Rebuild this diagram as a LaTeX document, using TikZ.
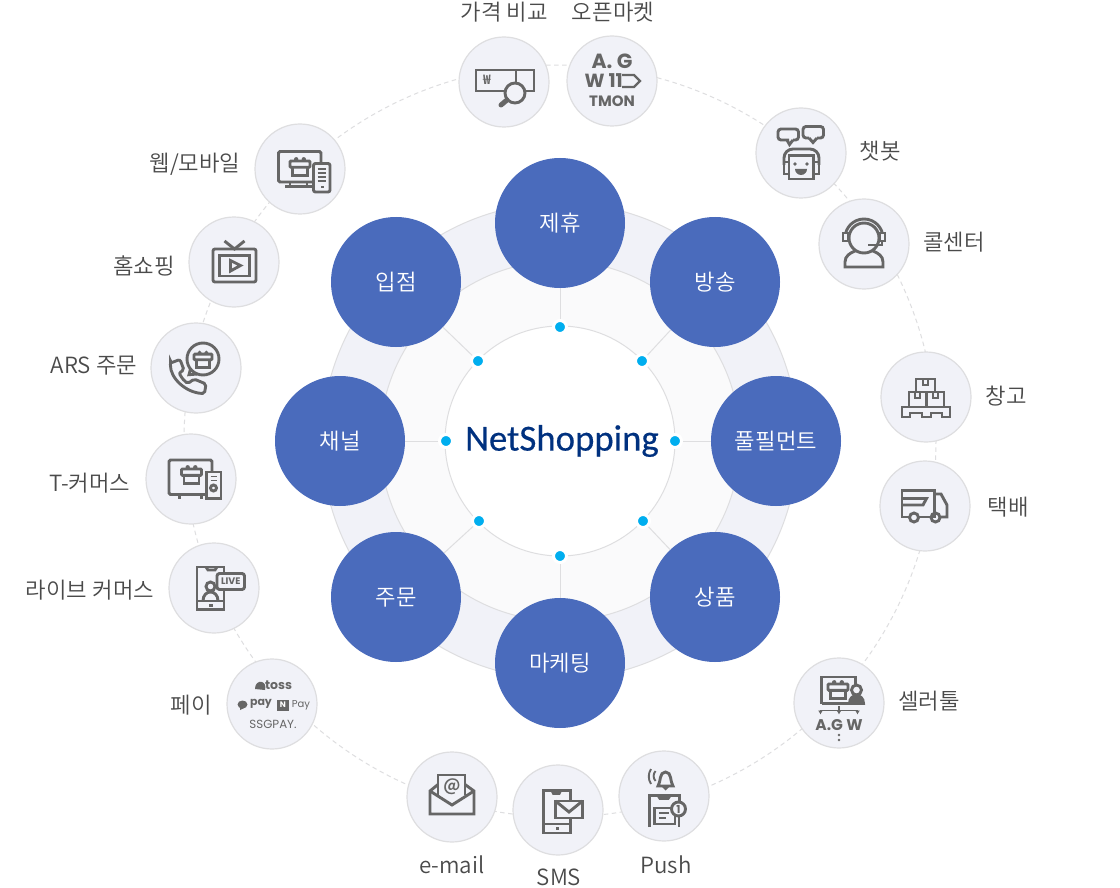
\documentclass[tikz,border=0pt]{standalone}
\usepackage{fontspec}
\setmainfont{Noto Sans CJK KR}[UprightFont=* DemiLight,BoldFont=* Bold]
\newfontfamily\logofont{Poppins}
\newfontfamily\brandfont{Carlito}[FakeBold=0.4]
\usetikzlibrary{shapes}
\usetikzlibrary{positioning}
\usetikzlibrary{arrows.meta}
\definecolor{ringout}{HTML}{F1F2F8}
\definecolor{ringmid}{HTML}{FAFAFB}
\definecolor{ringline}{HTML}{DEDEE0}
\definecolor{nodeblue}{HTML}{4A6BBC}
\definecolor{dotblue}{HTML}{00AEEF}
\definecolor{icongray}{HTML}{666666}
\definecolor{labelgray}{HTML}{4A4A4A}
\definecolor{brandblue}{HTML}{00317F}
\tikzset{
    ringnode/.style = {circle, draw=ringline, line width=1pt, inner sep=0pt},
    ringdash/.style = {ringnode, dash pattern=on 4.5pt off 3.5pt},
    nodemain/.style = {circle, fill=nodeblue, minimum size=130pt, inner sep=0pt, text=white, text height=17pt, text depth=0pt, font=\fontsize{22.3}{26}\selectfont},
    nodeicon/.style = {circle, draw=ringline, line width=1.2pt, fill=ringout, minimum size=90pt, inner sep=0pt},
    nodedot/.style = {circle, draw=white, line width=3pt, fill=dotblue, minimum size=13pt, inner sep=0pt},
    textlabel/.style = {text=labelgray, inner sep=0pt, font=\fontsize{22.3}{26}\selectfont},
    textlogo/.style = {text=icongray, inner sep=0pt, font=\logofont\bfseries\fontsize{#1}{#1}\selectfont},
    edgespoke/.style = {draw=ringline, line width=1pt},
    iconline/.style = {draw=icongray, line width=2.9pt, line join=miter},
    iconthin/.style = {draw=icongray, line width=1.9pt},
    iconfill/.style = {iconline, fill=ringout},
    giftbox/.pic = {
        \draw[iconline, rounded corners=1pt] (-10,-5.5) rectangle (10,0.8);
        \draw[iconline] (-7.5,0.8) -- (-7.5,9) -- (7.5,9) -- (7.5,0.8);
        \fill[icongray] (-3.8,-7.2) circle (2.2) (3.8,-7.2) circle (2.2);
    }
}
\begin{document}
\begin{tikzpicture}[x=1pt,y=-1pt]
\useasboundingbox[fill=white] (0,0) rectangle (1120,888);
%
\node[ringdash, minimum size=752pt] at (560,441) (ringd) {};
\node[ringnode, fill=ringout, minimum size=476pt] at (560,441) (ringa) {};
\node[ringnode, fill=ringmid, minimum size=360pt] at (560,441) (ringb) {};
\node[ringnode, fill=white, minimum size=230pt] at (560,441) (ringc) {};
%
\node[nodemain] at (560,223) (partner) {제휴};
\node[nodemain] at (715,282) (broadcast) {방송};
\node[nodemain] at (776,441) (fulfil) {풀필먼트};
\node[nodemain] at (715,597) (goods) {상품};
\node[nodemain] at (560,663) (marketing) {마케팅};
\node[nodemain] at (396,597) (order) {주문};
\node[nodemain] at (340,441) (channel) {채널};
\node[nodemain] at (396,282) (entry) {입점};
%
\node[nodedot] at (560,327) (dpartner) {};
\node[nodedot] at (642,361) (dbroadcast) {};
\node[nodedot] at (675,441) (dfulfil) {};
\node[nodedot] at (643,521) (dgoods) {};
\node[nodedot] at (560,556) (dmarketing) {};
\node[nodedot] at (479,521) (dorder) {};
\node[nodedot] at (446,441) (dchannel) {};
\node[nodedot] at (478,361) (dentry) {};
%
\draw[edgespoke] (dpartner) edge (partner);
\draw[edgespoke] (dbroadcast) edge (broadcast);
\draw[edgespoke] (dfulfil) edge (fulfil);
\draw[edgespoke] (dgoods) edge (goods);
\draw[edgespoke] (dmarketing) edge (marketing);
\draw[edgespoke] (dorder) edge (order);
\draw[edgespoke] (dchannel) edge (channel);
\draw[edgespoke] (dentry) edge (entry);
%
\node[text=brandblue, inner sep=0pt, font=\brandfont\fontsize{36.8}{40}\selectfont] at (562,441) (brand) {NetShopping};
%
\node[nodeicon] at (504,82) (price) {};
\node[nodeicon] at (612,81) (market) {};
\node[nodeicon] at (801,153) (chatbot) {};
\node[nodeicon] at (864,244) (callcenter) {};
\node[nodeicon] at (926,397) (warehouse) {};
\node[nodeicon] at (925,506) (delivery) {};
\node[nodeicon] at (839,703) (seller) {};
\node[nodeicon] at (664,796) (push) {};
\node[nodeicon] at (558,810) (sms) {};
\node[nodeicon] at (452,797) (email) {};
\node[nodeicon] at (272,704) (pay) {};
\node[nodeicon] at (214,588) (live) {};
\node[nodeicon] at (191,479) (tcommerce) {};
\node[nodeicon] at (196,368) (ars) {};
\node[nodeicon] at (234,262) (homeshop) {};
\node[nodeicon] at (300,169) (web) {};
%
\node[textlabel] at (504,12) (lprice) {가격 비교};
\node[textlabel] at (613,12) (lmarket) {오픈마켓};
\node[textlabel] at (880,151) (lchatbot) {챗봇};
\node[textlabel] at (954,242) (lcallcenter) {콜센터};
\node[textlabel] at (1006,396) (lwarehouse) {창고};
\node[textlabel] at (1008,507) (ldelivery) {택배};
\node[textlabel] at (929,701) (lseller) {셀러툴};
\node[textlabel] at (666,865) (lpush) {Push};
\node[textlabel] at (559,877) (lsms) {SMS};
\node[textlabel] at (452,865) (lemail) {e-mail};
\node[textlabel] at (191,705) (lpay) {페이};
\node[textlabel] at (90,590) (llive) {라이브 커머스};
\node[textlabel] at (90,483) (ltcommerce) {T-커머스};
\node[textlabel] at (94,366) (lars) {ARS 주문};
\node[textlabel] at (144,266) (lhomeshop) {홈쇼핑};
\node[textlabel] at (195,164) (lweb) {웹/모바일};
%
% price compare
\begin{scope}[shift={(504,82)}]
\draw[iconline] (-28,-12) rectangle (30,9);
\draw[iconline] (12,-12) -- (12,0);
\draw[iconfill] (11,11) circle (10);
\draw[icongray, line width=5pt, line cap=round] (3,18) -- (-3,23);
\node[text=icongray, inner sep=0pt, font=\bfseries\fontsize{13}{13}\selectfont] at (-17,-2) (won) {₩};
\end{scope}
% open market logos
\begin{scope}[shift={(612,81)}]
\node[textlogo=20.5] at (0,-20) (logoa) {A. G};
\node[textlogo=19, anchor=east] at (11,0) (logob) {W 11};
\draw[iconline, line width=2.2pt] (10,-6) -- (22,-6) -- (28,0) -- (22,6) -- (10,6);
\node[textlogo=15] at (0,20) (logoc) {TMON};
\end{scope}
% chatbot
\begin{scope}[shift={(801,153)}]
\draw[iconline, rounded corners=3pt] (-12,-13) -- (-23,-13) -- (-23,-24) -- (-2.5,-24) -- (-2.5,-13) -- (-8,-13);
\draw[iconline] (-14,-13) -- (-11.5,-8.5) -- (-8,-13);
\draw[iconline, rounded corners=3pt] (8,-15) -- (2,-15) -- (2,-26.5) -- (22.5,-26.5) -- (22.5,-15) -- (16,-15);
\draw[iconline] (8,-15) -- (12,-10.5) -- (16,-15);
\draw[iconline, rounded corners=9pt] (-17,12) -- (-17,-4) -- (18,-4) -- (18,12);
\draw[iconline] (-12,2.5) rectangle (12.5,26);
\draw[iconline] (-17,9) rectangle (-12,21);
\draw[iconline] (12.5,9) rectangle (18,21);
\fill[icongray] (-6,11) circle (1.9) (6,11) circle (1.9);
\fill[icongray] (-6,16) -- (6,16) arc[start angle=0, end angle=180, radius=6] -- cycle;
\end{scope}
% call center
\begin{scope}[shift={(864,244)}]
\draw[iconline] (-19,23) -- (19,23) -- (19,18) .. controls (19,12) and (14,9) .. (9,7) -- (-9,7) .. controls (-14,9) and (-19,12) .. (-19,18) -- cycle;
\draw[iconfill] (0,-6) circle (15);
\draw[iconline] (-19,-6) arc[start angle=180, end angle=360, radius=19];
\draw[iconfill] (-21,-11) rectangle (-15.5,-3);
\draw[iconfill] (15.5,-11) rectangle (21,-3);
\draw[iconline] (18,-3) -- (18,1) -- (4,1);
\end{scope}
% warehouse
\begin{scope}[shift={(926,397)}]
\draw[iconline] (-10,-5) -- (-10,-18) -- (9,-18) -- (9,-5);
\draw[iconline] (-3,-18) -- (-3,-12) -- (2,-12) -- (2,-18);
\draw[iconline] (-17,10) -- (-17,-5) -- (18,-5) -- (18,10);
\draw[iconline] (0.5,-5) -- (0.5,10);
\draw[iconline] (-11,-5) -- (-11,1) -- (-6,1) -- (-6,-5);
\draw[iconline] (7,-5) -- (7,1) -- (12,1) -- (12,-5);
\draw[iconline] (-24,20) -- (-24,10) -- (24,10) -- (24,20) -- (16,20) -- (16,16) -- (5,16) -- (5,20) -- (-4,20) -- (-4,16) -- (-16,16) -- (-16,20) -- cycle;
\end{scope}
% truck
\begin{scope}[shift={(925,506)}]
\draw[iconline] (-16,11) -- (-23,11) -- (-23,-15.5) -- (9.5,-15.5) -- (9.5,11) -- (-6,11);
\draw[iconline] (-23,-7.5) -- (1.5,-7.5) -- (-2,-1) -- (-23,-1);
\draw[iconline] (9.5,-12) -- (16,-12) -- (22,-1) -- (22,11) -- (16,11);
\draw[iconline] (9.5,11) -- (5,11);
\draw[iconline] (-11,11.5) circle (4.5);
\draw[iconline] (10.5,11.5) circle (4.5);
\end{scope}
% seller tool
\begin{scope}[shift={(839,703)}]
\draw[iconline] (-17.5,0.5) -- (-17.5,-26) -- (16.5,-26) -- (16.5,-18);
\draw[iconline] (-17.5,0.5) -- (10,0.5);
\pic at (-1,-13.5) {giftbox};
\draw[iconfill] (17.5,-13) circle (5);
\draw[iconline, fill=icongray] (10.5,0.5) .. controls (10.5,-10) and (24.5,-10) .. (24.5,0.5) -- cycle;
\draw[iconthin, -{Latex[length=4pt,width=5pt]}] (0,3) -- (0,11.5);
\draw[iconthin, -{Latex[length=4pt,width=5pt]}] (0,7.5) -- (-18.5,7.5) -- (-18.5,11.5);
\draw[iconthin, -{Latex[length=4pt,width=5pt]}] (0,7.5) -- (18.5,7.5) -- (18.5,11.5);
\node[textlogo=15.5] at (0,22) (logod) {A.G W};
\fill[icongray] (0,32) circle (1.4) (0,37) circle (1.4);
\end{scope}
% push
\begin{scope}[shift={(664,796)}]
\draw[iconline] (-6,-10) .. controls (-3,-14) and (-5,-24) .. (1.5,-24) .. controls (8,-24) and (6,-14) .. (9,-10) -- cycle;
\fill[icongray] (-2,-9) -- (5,-9) -- (1.5,-5.5) -- cycle;
\draw[iconthin] (-8.5,-25) .. controls (-11,-22) and (-11,-18) .. (-8.5,-15);
\draw[iconthin] (-13,-27) .. controls (-16,-22) and (-16,-17) .. (-13,-12);
\draw[iconline] (-14.5,31) -- (-14.5,-0.5) -- (15.5,-0.5) -- (15.5,6);
\draw[iconline] (15,18) -- (15,31);
\draw[iconline] (-6,-0.5) -- (-4,2.5) -- (4,2.5) -- (6,-0.5);
\draw[iconline] (-9.5,28) -- (-9.5,12) -- (11,12) -- (11,28) -- cycle;
\draw[iconthin] (-5,17) -- (5,17) (-5,22) -- (2,22);
\draw[iconfill] (14.5,13) circle (7);
\node[textlogo=11] at (14.5,13) (badge) {1};
\end{scope}
% sms
\begin{scope}[shift={(558,810)}]
\draw[iconline] (-14.5,-19.5) rectangle (12.5,23);
\draw[iconline] (-6,-19.5) -- (-4.5,-16.5) -- (1,-16.5) -- (2.5,-19.5);
\draw[iconline] (-14.5,14) -- (12.5,14);
\fill[icongray] (-2.5,17) rectangle (1,19.5);
\draw[iconfill] (-2.5,-9) rectangle (24.5,8);
\draw[iconline] (-2.5,-9) -- (11,2) -- (24.5,-9);
\end{scope}
% email
\begin{scope}[shift={(452,797)}]
\draw[iconline] (-14,-2) -- (-14,-22) -- (13,-22) -- (13,-2);
\draw[iconline] (-14,-12.5) -- (-22,-6) -- (-22,17) -- (22,17) -- (22,-6) -- (13,-12.5);
\draw[iconline] (-22,-6) -- (0,8) -- (22,-6);
\node[text=icongray, inner sep=0pt, font=\bfseries\fontsize{17}{17}\selectfont] at (0,-10) (at) {@};
\end{scope}
% pay logos
\begin{scope}[shift={(272,704)}]
\fill[icongray] (-17,-15) .. controls (-17,-20) and (-14,-23) .. (-10,-22) .. controls (-7,-21) and (-6,-18) .. (-7,-14) -- cycle;
\node[textlogo=12.5] at (6.5,-18.5) (toss) {toss};
\fill[icongray] (-29.5,0.5) ellipse (5 and 4);
\fill[icongray] (-32,3) -- (-32,6) -- (-28,4) -- cycle;
\node[textlogo=11] at (-11,0) (kpay) {pay};
\fill[icongray] (5,-4.5) rectangle (17,7);
\node[text=white, inner sep=0pt, font=\logofont\bfseries\fontsize{8}{8}\selectfont] at (11,1) (npay) {N};
\node[text=icongray, inner sep=0pt, font=\logofont\fontsize{10}{10}\selectfont] at (29,1) (npayb) {Pay};
\node[text=icongray, inner sep=0pt, font=\logofont\fontsize{11.8}{12}\selectfont] at (1,20) (ssg) {SSGPAY.};
\end{scope}
% live
\begin{scope}[shift={(214,588)}]
\draw[iconline] (-17,-21) rectangle (10,21.5);
\draw[iconline] (-8,-21) -- (-6,-18) -- (1,-18) -- (3,-21);
\draw[iconline] (-17,13) -- (10,13);
\fill[icongray] (-5,16) rectangle (-1.5,18.5);
\draw[iconline] (-3.5,-1.5) circle (4.5);
\draw[iconline] (-11,13) .. controls (-11,1) and (4,1) .. (4,13);
\draw[iconfill, rounded corners=2.5pt] (3,-14.5) rectangle (30.5,1.5);
\node[textlogo=9.5] at (16.8,-6.5) (livetxt) {LIVE};
\end{scope}
% t-commerce
\begin{scope}[shift={(191,479)}]
\draw[iconline, rounded corners=1.5pt] (-22,-19) rectangle (21,15.5);
\draw[iconline] (-11.5,15.5) -- (-11.5,19.5) (10.5,15.5) -- (10.5,19.5);
\pic at (0.5,-4.5) {giftbox};
\draw[iconfill] (15.5,-7) rectangle (30,19.5);
\draw[iconthin] (19.5,-2.5) -- (26,-2.5) (19.5,1.5) -- (26,1.5);
\draw[iconline] (22.5,9) circle (3);
\end{scope}
% ars
\begin{scope}[shift={(196,368)}]
\draw[iconline] (7,-9) circle (16);
\draw[iconline] (-5.5,1) -- (-7,6.7) -- (1.5,6);
\pic[scale=0.9] at (7,-9) {giftbox};
\draw[iconline, rounded corners=2pt] (-25.5,-5) -- (-16,-8.5) -- (-12,2) -- (-17,5) .. controls (-14,10) and (-12,13) .. (-8,15.5) -- (-2,11) -- (10,16) -- (8.5,25.5) .. controls (-10,25) and (-26,10) .. cycle;
\end{scope}
% home shopping
\begin{scope}[shift={(234,262)}]
\draw[iconline, rounded corners=2pt] (-21,-13) rectangle (22,20);
\draw[iconline] (-14.5,-6.5) rectangle (15.5,14);
\draw[iconline] (-9.5,-21) -- (0.5,-13) -- (10.5,-21);
\draw[iconline] (-3.5,-1.5) -- (6.5,3.5) -- (-3.5,9) -- cycle;
\end{scope}
% web and mobile
\begin{scope}[shift={(300,169)}]
\draw[iconline, rounded corners=1.5pt] (-21.5,-17.5) rectangle (21,13);
\draw[iconline] (-10,13) -- (-10,17) (7,13) -- (7,17) (-15,17.5) -- (14,17.5);
\pic at (0,-2.5) {giftbox};
\draw[iconfill, rounded corners=2pt] (13.5,-5.5) rectangle (30,23);
\draw[iconthin] (17.5,0) -- (26,0) (17.5,4) -- (26,4) (17.5,8) -- (26,8) (17.5,12) -- (26,12);
\fill[icongray] (20.5,17) rectangle (23.5,19.5);
\end{scope}

\end{tikzpicture}
\end{document}
